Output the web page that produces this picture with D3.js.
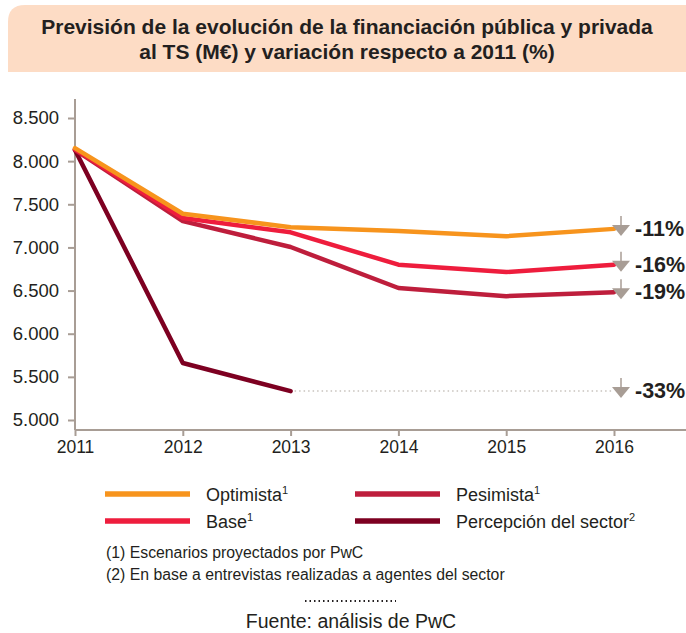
<!DOCTYPE html>
<meta charset="utf-8">
<style>
body { margin: 0; background: #fff; }
text { font-family: "Liberation Sans", Arial, sans-serif; fill: #231f20; }
</style>
<body>
<script src="https://d3js.org/d3.v7.min.js"></script>
<script>

var years = [2011, 2012, 2013, 2014, 2015, 2016];
var optimista = [8150, 7390, 7235, 7190, 7130, 7215];
var base = [8140, 7340, 7175, 6800, 6715, 6800];
var pesimista = [8130, 7305, 7005, 6530, 6435, 6480];
var percepcion = [8130, 5660, 5335];
var variacion = ["-11%", "-16%", "-19%", "-33%"];
var yTicks = [5000, 5500, 6000, 6500, 7000, 7500, 8000, 8500];

var series = [
  {name: "Optimista", sup: "1", values: optimista, color: "#f7941d"},
  {name: "Pesimista", sup: "1", values: pesimista, color: "#be1e3c"},
  {name: "Base", sup: "1", values: base, color: "#ee1d3d"},
  {name: "Percepción del sector", sup: "2", values: percepcion, color: "#7d0021"}
];

var width = 686, height = 633;
var svg = d3.select("body").append("svg")
    .attr("width", width)
    .attr("height", height);

// title box
var box = d3.path();
box.moveTo(8, 72); box.lineTo(8, 22);
box.quadraticCurveTo(8, 5, 25, 5);
box.lineTo(686, 5); box.lineTo(686, 72); box.closePath();
svg.append("path").attr("d", box.toString()).attr("fill", "#fddcc5");

svg.append("text").attr("x", 347).attr("y", 34)
    .attr("text-anchor", "middle").style("font-size", "21px").style("font-weight", "bold")
    .text("Previsión de la evolución de la financiación pública y privada");
svg.append("text").attr("x", 347).attr("y", 59)
    .attr("text-anchor", "middle").style("font-size", "21px").style("font-weight", "bold")
    .text("al TS (M€) y variación respecto a 2011 (%)");

var x = d3.scaleLinear().domain([2011, 2016]).range([75, 614]);
var y = d3.scaleLinear().domain([5000, 8500]).range([420, 118]);
var fmt = function(d) { return d3.format(",")(d).replace(",", "."); };
var axisColor = "#a89d95";

var yAxis = svg.append("g").attr("transform", "translate(75,0)")
    .call(d3.axisLeft(y).tickValues(yTicks).tickSize(7).tickPadding(9).tickFormat(fmt));
yAxis.select(".domain").attr("d", "M0,99V430");
yAxis.selectAll(".tick text").style("font-size", "18.5px");
var xAxis = svg.append("g").attr("transform", "translate(0,430)")
    .call(d3.axisBottom(x).tickValues(years).tickSize(6).tickPadding(5).tickFormat(d3.format("d")));
xAxis.select(".domain").attr("d", "M75,0H686");
xAxis.selectAll(".tick text").style("font-size", "17.5px");
svg.selectAll(".domain").attr("stroke", axisColor).attr("stroke-width", 2);
svg.selectAll(".tick line").attr("stroke", axisColor).attr("stroke-width", 2);
svg.selectAll(".tick text").attr("fill", "#231f20");

// dotted continuation of the sector line
svg.append("line")
    .attr("x1", x(2013) + 4).attr("x2", x(2016))
    .attr("y1", y(percepcion[2])).attr("y2", y(percepcion[2]))
    .attr("stroke", "#c8c2bd").attr("stroke-width", 1.5)
    .attr("stroke-dasharray", "1.5,3");

var line = d3.line()
    .x(function(d, i) { return x(years[i]); })
    .y(function(d) { return y(d); });

[series[3], series[1], series[2], series[0]].forEach(function(s) {
  svg.append("path")
      .attr("d", line(s.values))
      .attr("fill", "none")
      .attr("stroke", s.color)
      .attr("stroke-width", 4.5)
      .attr("stroke-linecap", "round")
      .attr("stroke-linejoin", "round");
});

// arrows and percentage labels
var ends = [optimista[5], base[5], pesimista[5], percepcion[2]];
ends.forEach(function(v, i) {
  var cy = y(v);
  var g = svg.append("g").attr("transform", "translate(" + (x(2016) + 7) + "," + cy + ")");
  g.append("line").attr("x1", 0).attr("x2", 0).attr("y1", -13).attr("y2", 0)
      .attr("stroke", "#a89d95").attr("stroke-width", 1.5);
  g.append("path").attr("d", "M-9,-4L9,-4L0,7Z").attr("fill", "#a89d95");
  g.append("text").attr("x", 14).attr("y", 7)
      .style("font-size", "21.5px").style("font-weight", "bold")
      .text(variacion[i]);
});

// legend
var legend = [
  {s: series[0], lx: 105, ly: 494},
  {s: series[1], lx: 355, ly: 494},
  {s: series[2], lx: 105, ly: 521},
  {s: series[3], lx: 355, ly: 521}
];
legend.forEach(function(l) {
  svg.append("line").attr("x1", l.lx).attr("x2", l.lx + 85)
      .attr("y1", l.ly).attr("y2", l.ly)
      .attr("stroke", l.s.color).attr("stroke-width", 5.5);
  var t = svg.append("text").attr("x", l.lx + 101).attr("y", l.ly + 7)
      .style("font-size", "18px").text(l.s.name);
  t.append("tspan").attr("dy", -7).style("font-size", "11px").text(l.s.sup);
});

svg.append("text").attr("x", 106).attr("y", 558).style("font-size", "15.8px")
    .text("(1) Escenarios proyectados por PwC");
svg.append("text").attr("x", 106).attr("y", 580).style("font-size", "15.8px")
    .text("(2) En base a entrevistas realizadas a agentes del sector");

svg.append("line").attr("x1", 305).attr("x2", 396).attr("y1", 601).attr("y2", 601)
    .attr("stroke", "#231f20").attr("stroke-width", 2).attr("stroke-dasharray", "1.5,3");
svg.append("text").attr("x", 351).attr("y", 628).attr("text-anchor", "middle")
    .style("font-size", "19.5px").text("Fuente: análisis de PwC");

</script>
</body>
